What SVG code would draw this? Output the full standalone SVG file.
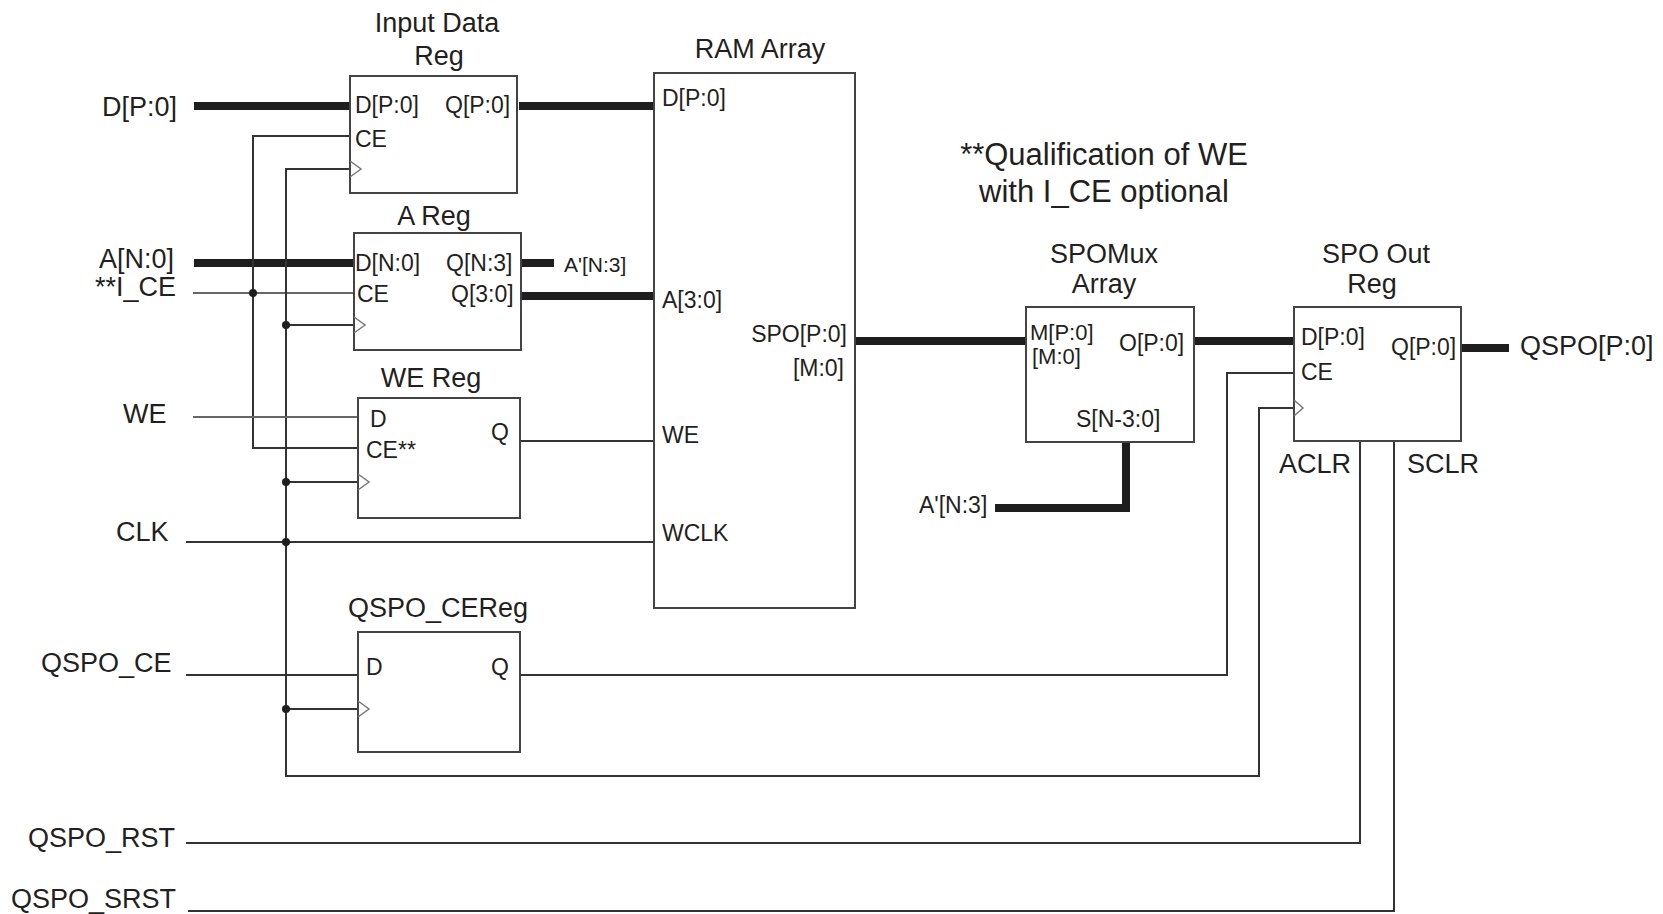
<svg xmlns="http://www.w3.org/2000/svg" width="1663" height="914" viewBox="0 0 1663 914">
<style>
text{font-family:"Liberation Sans",Arial,sans-serif;fill:#231f20}
.lbl{font-size:27px}
.prt{font-size:23px}
.note{font-size:31px}
.box{fill:none;stroke:#444;stroke-width:2}
.w{fill:none;stroke:#333;stroke-width:2}
.wl{fill:none;stroke:#666;stroke-width:2}
.bus{fill:none;stroke:#1e1e1e;stroke-width:8;stroke-linejoin:miter}
.clk{fill:none;stroke:#777;stroke-width:1.5}
.dot{fill:#1e1e1e}
</style>
<rect width="1663" height="914" fill="#fff"/>

<g id="connectors">
<path class="bus" d="M194 106H350"/>
<path class="bus" d="M519 106H653"/>
<path class="bus" d="M194 263H354"/>
<path class="bus" d="M521 263H554"/>
<path class="bus" d="M521 296H653"/>
<path class="bus" d="M855 341H1026"/>
<path class="bus" d="M1194 341H1294"/>
<path class="bus" d="M1461 348H1509"/>
<path class="bus" d="M1126 442V508H995"/>
<path class="w" d="M350 136H253V448H358"/>
<path class="wl" d="M193 293H354"/>
<path class="w" d="M350 169H286V776H1259V408H1294"/>
<path class="w" d="M286 325H354M286 482H358M286 709H358"/>
<path class="w" d="M186 542H653"/>
<path class="wl" d="M193 417H358"/>
<path class="w" d="M520 441H653"/>
<path class="w" d="M186 675H358"/>
<path class="w" d="M520 675H1227V373H1294"/>
<path class="w" d="M186 843H1360V441"/>
<path class="w" d="M188 911H1394V441"/>
<circle class="dot" cx="253" cy="293" r="4"/>
<circle class="dot" cx="286" cy="325" r="4"/>
<circle class="dot" cx="286" cy="482" r="4"/>
<circle class="dot" cx="286" cy="542" r="4"/>
<circle class="dot" cx="286" cy="709" r="4"/>
</g>

<g id="inputs">
<text class="lbl" x="102" y="116">D[P:0]</text>
<text class="lbl" x="99" y="268">A[N:0]</text>
<text class="lbl" x="95" y="296">**I_CE</text>
<text class="lbl" x="123" y="423">WE</text>
<text class="lbl" x="116" y="541">CLK</text>
<text class="lbl" x="41" y="672">QSPO_CE</text>
<text class="lbl" x="28" y="847">QSPO_RST</text>
<text class="lbl" x="11" y="908">QSPO_SRST</text>
</g>

<g id="input-data-reg">
<text class="lbl" x="437" y="32" text-anchor="middle">Input Data</text>
<text class="lbl" x="439" y="65" text-anchor="middle">Reg</text>
<rect class="box" x="350" y="76" width="167" height="117"/>
<path class="clk" d="M350 161L361 169L350 177"/>
<text class="prt" x="355" y="113">D[P:0]</text>
<text class="prt" x="445" y="113">Q[P:0]</text>
<text class="prt" x="355" y="147">CE</text>
</g>

<g id="a-reg">
<text class="lbl" x="434" y="225" text-anchor="middle">A Reg</text>
<rect class="box" x="354" y="233" width="167" height="117"/>
<path class="clk" d="M354 317L365 325L354 333"/>
<text class="prt" x="355" y="271">D[N:0]</text>
<text class="prt" x="446" y="271">Q[N:3]</text>
<text class="prt" x="357" y="302">CE</text>
<text class="prt" x="451" y="302">Q[3:0]</text>
<text x="564" y="272" style="font-size:21px">A'[N:3]</text>
</g>

<g id="we-reg">
<text class="lbl" x="431" y="387" text-anchor="middle">WE Reg</text>
<rect class="box" x="358" y="398" width="162" height="120"/>
<path class="clk" d="M358 474L369 482L358 490"/>
<text class="prt" x="370" y="427">D</text>
<text class="prt" x="366" y="458">CE**</text>
<text class="prt" x="491" y="440">Q</text>
</g>

<g id="qspo-cereg">
<text class="lbl" x="438" y="617" text-anchor="middle">QSPO_CEReg</text>
<rect class="box" x="358" y="632" width="162" height="120"/>
<path class="clk" d="M358 701L369 709L358 717"/>
<text class="prt" x="366" y="675">D</text>
<text class="prt" x="491" y="675">Q</text>
</g>

<g id="ram-array">
<text class="lbl" x="760" y="58" text-anchor="middle">RAM Array</text>
<rect class="box" x="654" y="73" width="201" height="535"/>
<text class="prt" x="662" y="106">D[P:0]</text>
<text class="prt" x="662" y="308">A[3:0]</text>
<text class="prt" x="847" y="342" text-anchor="end">SPO[P:0]</text>
<text class="prt" x="844" y="376" text-anchor="end">[M:0]</text>
<text class="prt" x="662" y="443">WE</text>
<text class="prt" x="662" y="541">WCLK</text>
</g>

<g id="note">
<text class="note" x="1104" y="165" text-anchor="middle">**Qualification of WE</text>
<text class="note" x="1104" y="202" text-anchor="middle">with I_CE optional</text>
</g>

<g id="spomux-array">
<text class="lbl" x="1104" y="263" text-anchor="middle">SPOMux</text>
<text class="lbl" x="1104" y="293" text-anchor="middle">Array</text>
<rect class="box" x="1026" y="307" width="168" height="135"/>
<text x="1030" y="340" style="font-size:22px">M[P:0]</text>
<text x="1032" y="364" style="font-size:22px">[M:0]</text>
<text class="prt" x="1119" y="351">O[P:0]</text>
<text class="prt" x="1076" y="427">S[N-3:0]</text>
<text class="prt" x="919" y="513">A'[N:3]</text>
</g>

<g id="spo-out-reg">
<text class="lbl" x="1376" y="263" text-anchor="middle">SPO Out</text>
<text class="lbl" x="1372" y="293" text-anchor="middle">Reg</text>
<rect class="box" x="1294" y="307" width="167" height="134"/>
<path class="clk" d="M1294 400L1303 408L1294 416"/>
<text class="prt" x="1301" y="345">D[P:0]</text>
<text class="prt" x="1391" y="355">Q[P:0]</text>
<text class="prt" x="1301" y="380">CE</text>
<text class="lbl" x="1279" y="473">ACLR</text>
<text class="lbl" x="1407" y="473">SCLR</text>
<text class="lbl" x="1520" y="355">QSPO[P:0]</text>
</g>
</svg>
